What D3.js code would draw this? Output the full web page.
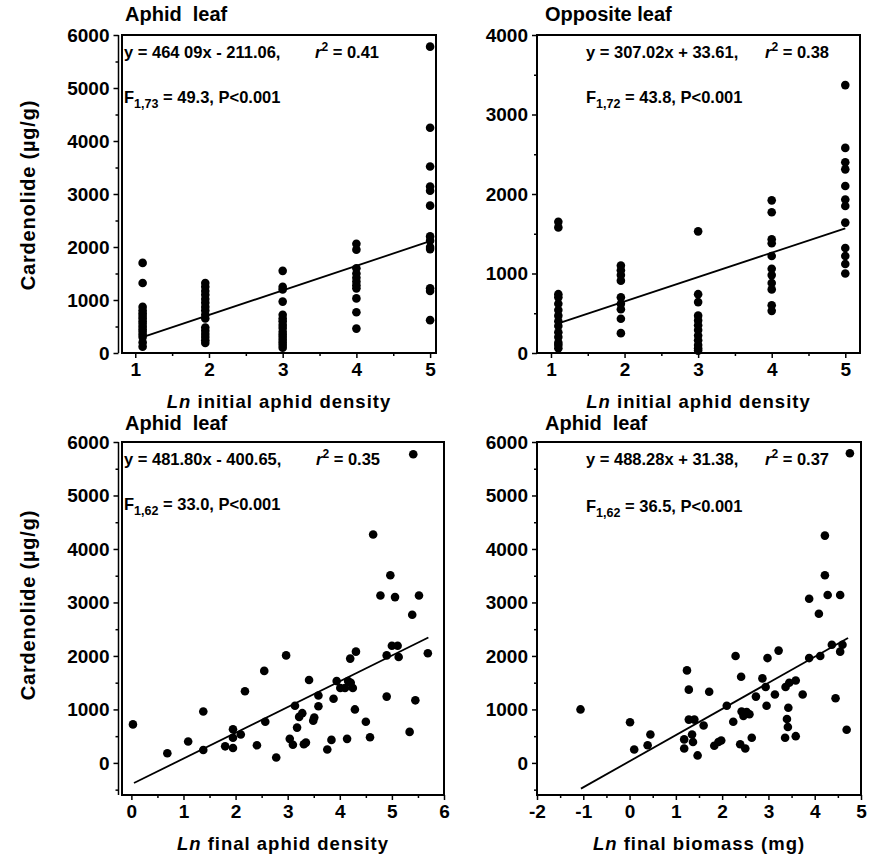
<!DOCTYPE html>
<html>
<head>
<meta charset="utf-8">
<script src="https://cdn.jsdelivr.net/npm/d3@7"></script>
<style>
  html, body { margin: 0; padding: 0; background: #fff; }
  text { font-family: "Liberation Sans", Arial, sans-serif; font-weight: bold; fill: #000; }
</style>
</head>
<body>
<svg id="chart" width="871" height="860"></svg>
<script>
// ---------------- DATA ----------------
// Panel A: Aphid leaf vs Ln initial aphid density
const initAphidX = [
  1.1,1.1,1.1,1.1,1.1,1.1,1.1,1.1,1.1,1.1,1.1,1.1,1.1,1.1,1.1,1.1,
  1.95,1.95,1.95,1.95,1.95,1.95,1.95,1.95,1.95,1.95,1.95,1.95,1.95,1.95,1.95,1.95,
  3.0,3.0,3.0,3.0,3.0,3.0,3.0,3.0,3.0,3.0,3.0,3.0,3.0,3.0,3.0,3.0,
  4.0,4.0,4.0,4.0,4.0,4.0,4.0,4.0,4.0,4.0,4.0,
  5.0,5.0,5.0,5.0,5.0,5.0,5.0,5.0,5.0,5.0,5.0,5.0,5.0
];
const initAphidY = [
  1700,1320,870,800,750,700,650,600,550,500,450,400,350,300,200,120,
  1320,1250,1170,1100,1020,950,870,800,720,650,480,420,360,300,240,190,
  1550,1250,1200,970,720,650,600,530,470,400,350,300,250,200,150,100,
  2060,1950,1600,1500,1420,1350,1280,1220,1030,770,460,
  5780,4250,3520,3140,3060,2780,2200,2120,2000,1960,1220,1170,620
];
// Panel B: Opposite leaf vs Ln initial aphid density
const initOppX = [
  1.1,1.1,1.1,1.1,1.1,1.1,1.1,1.1,1.1,1.1,1.1,1.1,1.1,1.1,
  1.95,1.95,1.95,1.95,1.95,1.95,1.95,1.95,1.95,
  3.0,3.0,3.0,3.0,3.0,3.0,3.0,3.0,3.0,3.0,3.0,3.0,
  4.0,4.0,4.0,4.0,4.0,4.0,4.0,4.0,4.0,4.0,4.0,
  5.0,5.0,5.0,5.0,5.0,5.0,5.0,5.0,5.0,5.0,5.0,5.0
];
const initOppY = [
  1650,1580,740,700,620,540,470,400,340,260,200,130,60,100,
  1100,1040,980,910,700,620,550,430,250,
  1530,740,640,470,410,350,290,220,160,100,60,30,
  1920,1770,1430,1380,1220,1060,980,880,800,600,530,
  3370,2580,2400,2310,2100,1930,1850,1640,1320,1220,1120,1000
];
// Panel C: Aphid leaf vs Ln final aphid density
const finalDensX = [
  0.03,0.69,1.09,1.38,1.38,1.80,1.95,1.95,1.95,2.10,2.18,2.41,2.55,2.57,2.78,2.97,
  3.04,3.10,3.14,3.18,3.22,3.28,3.31,3.35,3.41,3.49,3.51,3.59,3.59,3.76,3.84,3.88,
  3.94,4.01,4.10,4.14,4.16,4.21,4.25,4.29,4.20,4.31,4.50,4.58,4.64,4.78,4.97,4.90,
  4.90,5.00,5.06,5.11,5.13,5.34,5.39,5.41,5.45,5.52,5.69
];
const finalDensY = [
  720,180,400,960,240,310,630,470,280,530,1340,330,1720,770,100,2010,
  450,340,1070,660,860,930,350,380,1550,790,850,1060,1260,250,430,1200,
  1530,1400,1400,450,1530,1500,1400,1000,1950,2080,770,480,4270,3130,3510,2010,
  1240,2190,3100,2190,1980,580,2770,5770,1170,3130,2050
];
// Panel D: Aphid leaf vs Ln final biomass
const biomassX = [
  -1.06,0.01,0.10,0.45,0.39,1.18,1.18,1.24,1.28,1.28,1.35,1.37,1.40,1.47,1.60,1.72,
  1.83,1.92,1.98,2.10,2.24,2.29,2.39,2.42,2.41,2.46,2.50,2.53,2.59,2.64,2.73,2.87,
  2.94,2.96,2.98,3.14,3.22,3.36,3.40,3.43,3.42,3.37,3.45,3.59,3.59,3.74,3.88,3.88,
  4.09,4.12,4.22,4.22,4.28,4.37,4.45,4.55,4.55,4.60,4.69,4.76
];
const biomassY = [
  1000,760,250,530,330,440,270,1730,1370,810,530,390,810,140,700,1330,
  320,390,420,1070,770,2000,350,960,1610,880,270,950,910,470,1240,1580,
  1420,1070,1960,1280,2100,470,820,1030,670,1420,1500,1540,500,1280,1960,3070,
  2790,2000,4250,3510,3140,2210,1210,2080,3140,2210,620,5790
];

// Regression fits (slope, intercept) and x-extent of drawn line
const fitSlopes = [464.09, 307.02, 481.80, 488.28];
const fitIntercepts = [-211.06, 33.61, -400.65, 31.38];
const fitXFrom = [1.1, 1.1, 0.05, -1.05];
const fitXTo = [5.0, 5.0, 5.7, 4.72];

// Text
const panelTitles = ["Aphid  leaf", "Opposite leaf", "Aphid  leaf", "Aphid  leaf"];
const eqTexts = ["y = 464 09x - 211.06,", "y = 307.02x + 33.61,", "y = 481.80x - 400.65,", "y = 488.28x + 31.38,"];
const r2Texts = ["0.41", "0.38", "0.35", "0.37"];
const fDf = ["1,73", "1,72", "1,62", "1,62"];
const fTexts = [" = 49.3, P<0.001", " = 43.8, P<0.001", " = 33.0, P<0.001", " = 36.5, P<0.001"];
const xTitleRest = [" initial aphid density", " initial aphid density", " final aphid density", " final biomass (mg)"];
const yTitle = "Cardenolide (\u00b5g/g)";

// Ticks
const xTicksInit = [1, 2, 3, 4, 5];
const xTicksFinalDens = [0, 1, 2, 3, 4, 5, 6];
const xTicksBiomass = [-2, -1, 0, 1, 2, 3, 4, 5];
const yTicks6000 = [0, 1000, 2000, 3000, 4000, 5000, 6000];
const yTicks4000 = [0, 1000, 2000, 3000, 4000];

// ---------------- LAYOUT ----------------
const svg = d3.select("#chart");
const fmt = d => String(d); // plain hyphen-minus like the original

const panels = [
  { xs: initAphidX, ys: initAphidY, xDom: [0.82, 5.08], xRange: [122, 436], yDom: [0, 6000], yRange: [353, 35],
    xTicks: xTicksInit, xMinor: [1.5, 2.5, 3.5, 4.5], yTicks: yTicks6000, yMinor: [500,1500,2500,3500,4500,5500],
    doubleAxis: true, eqX: 124, r2X: 315, eqY: 58, fY: 103, titleX: 125, titleY: 21, xtOff: 55 },
  { xs: initOppX, ys: initOppY, xDom: [0.81, 5.2], xRange: [537, 860], yDom: [0, 4000], yRange: [353, 35],
    xTicks: xTicksInit, xMinor: [1.5, 2.5, 3.5, 4.5], yTicks: yTicks4000, yMinor: [500,1500,2500,3500],
    doubleAxis: false, eqX: 586, r2X: 765, eqY: 58, fY: 103, titleX: 545, titleY: 21, xtOff: 55 },
  { xs: finalDensX, ys: finalDensY, xDom: [-0.18, 6], xRange: [122, 444], yDom: [-600, 6000], yRange: [795, 442],
    xTicks: xTicksFinalDens, xMinor: [0.5,1.5,2.5,3.5,4.5,5.5], yTicks: yTicks6000, yMinor: [-500,500,1500,2500,3500,4500,5500],
    doubleAxis: true, eqX: 124, r2X: 316, eqY: 465, fY: 510, titleX: 125, titleY: 430, xtOff: 55 },
  { xs: biomassX, ys: biomassY, xDom: [-2, 5], xRange: [537, 861], yDom: [-600, 6000], yRange: [795, 442],
    xTicks: xTicksBiomass, xMinor: [-1.5,-0.5,0.5,1.5,2.5,3.5,4.5], yTicks: yTicks6000, yMinor: [-500,500,1500,2500,3500,4500,5500],
    doubleAxis: false, eqX: 586, r2X: 765, eqY: 465, fY: 512, titleX: 545, titleY: 430, xtOff: 55 }
];

panels.forEach((p, i) => {
  const x = d3.scaleLinear().domain(p.xDom).range(p.xRange);
  const y = d3.scaleLinear().domain(p.yDom).range(p.yRange);
  const g = svg.append("g");
  const left = p.xRange[0], right = p.xRange[1], top = p.yRange[1], bottom = p.yRange[0];

  // frame
  g.append("rect").attr("x", left).attr("y", top).attr("width", right - left).attr("height", bottom - top)
    .attr("fill", "none").attr("stroke", "#000").attr("stroke-width", 2);

  // Y axis
  const axX = p.doubleAxis ? left - 3.5 : left;
  const yAxis = g.append("g").attr("transform", `translate(${axX},0)`)
    .call(d3.axisLeft(y).tickValues(p.yTicks).tickSize(5).tickPadding(4).tickFormat(fmt));
  yAxis.select(".domain").attr("stroke-width", p.doubleAxis ? 1.5 : 2).attr("d", `M0,${top}V${bottom}`);
  yAxis.selectAll(".tick line").attr("stroke-width", 1.5);
  yAxis.selectAll(".tick text").style("font-size", "19px");
  const yMin = g.append("g").attr("transform", `translate(${axX},0)`)
    .call(d3.axisLeft(y).tickValues(p.yMinor).tickSize(3).tickFormat(""));
  yMin.select(".domain").remove();
  yMin.selectAll(".tick line").attr("stroke-width", 1.5);

  // X axis
  const xAxis = g.append("g").attr("transform", `translate(0,${bottom})`)
    .call(d3.axisBottom(x).tickValues(p.xTicks).tickSize(5).tickPadding(5).tickFormat(fmt));
  xAxis.select(".domain").remove();
  xAxis.selectAll(".tick line").attr("stroke-width", 1.5);
  xAxis.selectAll(".tick text").style("font-size", "19px");
  const xMin = g.append("g").attr("transform", `translate(0,${bottom})`)
    .call(d3.axisBottom(x).tickValues(p.xMinor).tickSize(3).tickFormat(""));
  xMin.select(".domain").remove();
  xMin.selectAll(".tick line").attr("stroke-width", 1.5);

  // regression line
  g.append("line")
    .attr("x1", x(fitXFrom[i])).attr("y1", y(fitSlopes[i] * fitXFrom[i] + fitIntercepts[i]))
    .attr("x2", x(fitXTo[i])).attr("y2", y(fitSlopes[i] * fitXTo[i] + fitIntercepts[i]))
    .attr("stroke", "#000").attr("stroke-width", 1.8);

  // points
  g.selectAll("circle.pt").data(p.xs.map((v, k) => [v, p.ys[k]])).enter().append("circle")
    .attr("class", "pt").attr("cx", d => x(d[0])).attr("cy", d => y(d[1])).attr("r", 4.3).attr("fill", "#000");

  // title
  g.append("text").attr("x", p.titleX).attr("y", p.titleY).style("font-size", "20px")
    .attr("xml:space", "preserve").text(panelTitles[i]);

  // equation
  g.append("text").attr("x", p.eqX).attr("y", p.eqY).style("font-size", "16.5px").text(eqTexts[i]);
  const r2 = g.append("text").attr("x", p.r2X).attr("y", p.eqY).style("font-size", "16.5px");
  r2.append("tspan").style("font-style", "italic").text("r");
  r2.append("tspan").attr("dy", -7).style("font-size", "12px").text("2");
  r2.append("tspan").attr("dy", 7).text(" = " + r2Texts[i]);

  const ft = g.append("text").attr("x", p.eqX).attr("y", p.fY).style("font-size", "16.5px");
  ft.append("tspan").text("F");
  ft.append("tspan").attr("dy", 5).style("font-size", "12.5px").text(fDf[i]);
  ft.append("tspan").attr("dy", -5).text(fTexts[i]);

  // x title
  const xt = g.append("text").attr("x", (left + right) / 2).attr("y", bottom + p.xtOff)
    .attr("text-anchor", "middle").style("font-size", "18.5px").style("letter-spacing", "1px");
  xt.append("tspan").style("font-style", "italic").text("Ln");
  xt.append("tspan").text(xTitleRest[i]);

  // y title (left panels only)
  if (i === 0 || i === 2) {
    const cy = i === 0 ? 195 : 605;
    g.append("text").attr("transform", `translate(35,${cy}) rotate(-90)`)
      .attr("text-anchor", "middle").style("font-size", "20px").style("letter-spacing", "0.8px").text(yTitle);
  }
});
</script>
</body>
</html>
